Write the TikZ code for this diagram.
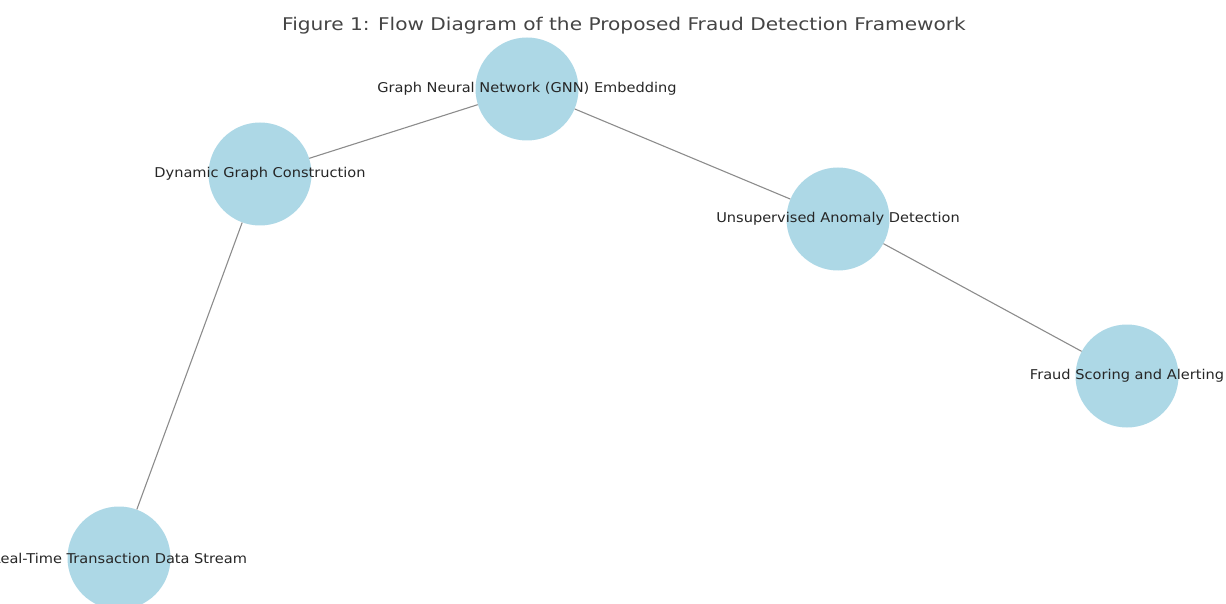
\documentclass[tikz,border=0pt]{standalone}
\usepackage{fontspec}
\setmainfont{DejaVu Sans}
\newfontfamily\lblfont[FakeStretch=1.08]{DejaVu Sans}
\newfontfamily\titlefont[FakeStretch=1.15]{DejaVu Sans}
\usetikzlibrary{positioning}
\definecolor{nodeblue}{HTML}{ADD8E6}
\definecolor{edgegray}{HTML}{8C8C8C}
\definecolor{titlegray}{HTML}{444444}
\begin{document}
\begin{tikzpicture}[x=1pt, y=-1pt, main node/.style={circle,fill=nodeblue,minimum size=103pt,inner sep=0pt}, lbl/.style={font=\lblfont\fontsize{13.5}{15}\selectfont,text=black!85}]
\useasboundingbox (0,0) rectangle (1226,604);
\clip (0,0) rectangle (1226,604);
\node[font=\titlefont\fontsize{17.5}{20}\selectfont,text=titlegray] (title) at (624,26) {Figure 1: Flow Diagram of the Proposed Fraud Detection Framework};
\begin{scope}
\node[main node] (v1) at (527,89) {};
\node[main node] (v2) at (260,174) {};
\node[main node] (v3) at (838,219) {};
\node[main node] (v4) at (1127,376) {};
\node[main node] (v5) at (119,558) {};
\end{scope}
\begin{scope}[edgegray, line width=1.1pt]
\draw (v5) -- (v2);
\draw (v2) -- (v1);
\draw (v1) -- (v3);
\draw (v3) -- (v4);
\end{scope}
\begin{scope}[every node/.style={lbl}]
\node (t1) at (v1) {Graph Neural Network (GNN) Embedding};
\node (t2) at (v2) {Dynamic Graph Construction};
\node (t3) at (v3) {Unsupervised Anomaly Detection};
\node (t4) at (v4) {Fraud Scoring and Alerting};
\node (t5) at (v5) {Real-Time Transaction Data Stream};
\end{scope}
\end{tikzpicture}
\end{document}
